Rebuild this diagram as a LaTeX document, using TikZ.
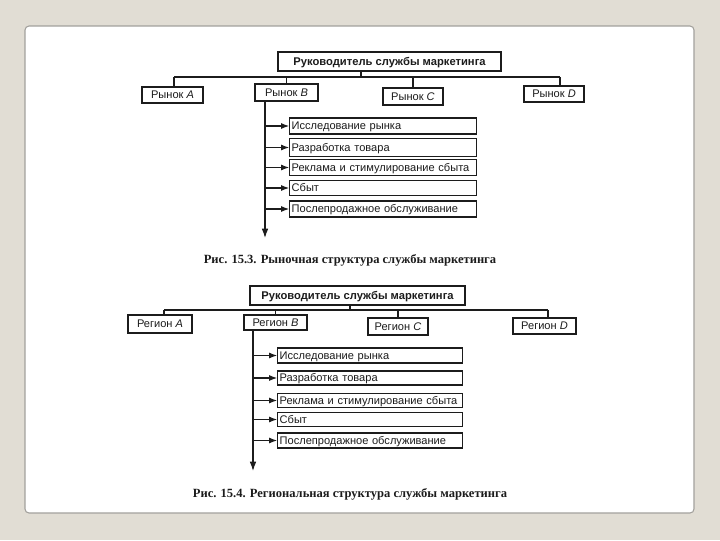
\documentclass[tikz,border=0pt]{standalone}
\usepackage{fontspec}
\setmainfont{Liberation Serif}
\setsansfont{Liberation Sans}
\usetikzlibrary{arrows.meta}
\definecolor{bgbeige}{HTML}{E1DDD4}
\definecolor{cardedge}{HTML}{A2A09C}
\definecolor{ink}{HTML}{1C1C1C}
\tikzset{
  box/.style={draw=ink, line width=0.85pt, inner sep=0pt, anchor=center, font=\sffamily\fontsize{8.3}{9}\selectfont, text=ink, text height=6pt, text depth=0.5pt},
  headbox/.style={box, font=\sffamily\bfseries\fontsize{8.4}{9}\selectfont},
  itembox/.style={box, text width=#1, align=left},
  conn/.style={draw=ink, line width=0.85pt},
  arr/.style={conn, -{Latex[length=6pt,width=4.5pt]}},
  downarr/.style={conn, -{Latex[length=7pt,width=5pt]}},
  caption/.style={font=\rmfamily\bfseries\fontsize{9.4}{11}\selectfont, text=ink, inner sep=0pt}
}
\begin{document}
\begin{tikzpicture}[x=0.75pt,y=-0.75pt]
\useasboundingbox (0,0) rectangle (720,540);
\fill[bgbeige] (0,0) rectangle (720,540);
\draw[cardedge, fill=white, line width=0.8pt, rounded corners=3pt] (25,26) rectangle (694,513);

% ---------- top diagram ----------
\node[headbox, minimum width=167.25pt, minimum height=14.25pt] (h1) at (389.5,61.5) {Руководитель службы маркетинга};
\coordinate (s1) at (361,71);
\coordinate (s1b) at (361,77);
\coordinate (bl1) at (174,77);
\coordinate (br1) at (560,77);
\node[box, minimum width=45.75pt, minimum height=12pt] (a1) at (172.5,95) {Рынок \textit{A}};
\node[box, minimum width=47.25pt, minimum height=12.75pt] (b1) at (286.5,92.5) {Рынок \textit{B}};
\node[box, minimum width=45pt, minimum height=12.75pt] (c1) at (413,96.5) {Рынок \textit{C}};
\node[box, minimum width=45pt, minimum height=12pt] (d1) at (554,94) {Рынок \textit{D}};
\draw[conn] (s1) -- (s1b);
\draw[conn] (bl1) -- (br1);
\draw[conn] (bl1) -- (bl1 |- a1.north);
\draw[conn] (b1.north |- bl1) -- (b1.north);
\draw[conn] (c1.north |- bl1) -- (c1.north);
\draw[conn] (br1) -- (br1 |- d1.north);

\coordinate (v1) at (265,101);
\coordinate (v1e) at (265,238);
\draw[downarr] (v1) -- (v1e);
\foreach \n/\y/\hh/\t in {1/126/12/Исследование рынка, 2/147.5/14/Разработка товара, 3/167.5/11.5/Реклама и стимулирование сбыта, 4/188/11/Сбыт, 5/209/12/Послепродажное обслуживание}{
  \node[itembox=137pt, minimum height=\hh pt, inner xsep=1.5pt] (t1\n) at (383,\y) {\t};
  \draw[arr] (v1 |- t1\n.west) -- (t1\n.west);
}
\node[caption] (cap1) at (350,260) {Рис. 15.3. Рыночная структура службы маркетинга};

% ---------- bottom diagram ----------
\node[headbox, minimum width=161.25pt, minimum height=14.25pt] (h2) at (357.5,295.5) {Руководитель службы маркетинга};
\coordinate (s2) at (350,305);
\coordinate (s2b) at (350,310);
\coordinate (bl2) at (164,310);
\coordinate (br2) at (548,310);
\node[box, minimum width=48pt, minimum height=13.5pt] (a2) at (160,324) {Регион \textit{A}};
\node[box, minimum width=47.25pt, minimum height=11.25pt] (b2) at (275.5,322.5) {Регион \textit{B}};
\node[box, minimum width=45pt, minimum height=12.75pt] (c2) at (398,326.5) {Регион \textit{C}};
\node[box, minimum width=47.25pt, minimum height=12pt] (d2) at (544.5,326) {Регион \textit{D}};
\draw[conn] (s2) -- (s2b);
\draw[conn] (bl2) -- (br2);
\draw[conn] (bl2) -- (bl2 |- a2.north);
\draw[conn] (b2.north |- bl2) -- (b2.north);
\draw[conn] (c2.north |- bl2) -- (c2.north);
\draw[conn] (br2) -- (br2 |- d2.north);

\coordinate (v2) at (253,330);
\coordinate (v2e) at (253,471);
\draw[downarr] (v2) -- (v2e);
\foreach \n/\y/\hh/\t in {1/355.5/11.25/Исследование рынка, 2/378/10.5/Разработка товара, 3/400.5/10/Реклама и стимулирование сбыта, 4/419.5/10/Сбыт, 5/440.5/11.25/Послепродажное обслуживание}{
  \node[itembox=135.5pt, minimum height=\hh pt, inner xsep=1.5pt] (t2\n) at (370,\y) {\t};
  \draw[arr] (v2 |- t2\n.west) -- (t2\n.west);
}
\node[caption] (cap2) at (350,494) {Рис. 15.4. Региональная структура службы маркетинга};
\end{tikzpicture}
\end{document}
